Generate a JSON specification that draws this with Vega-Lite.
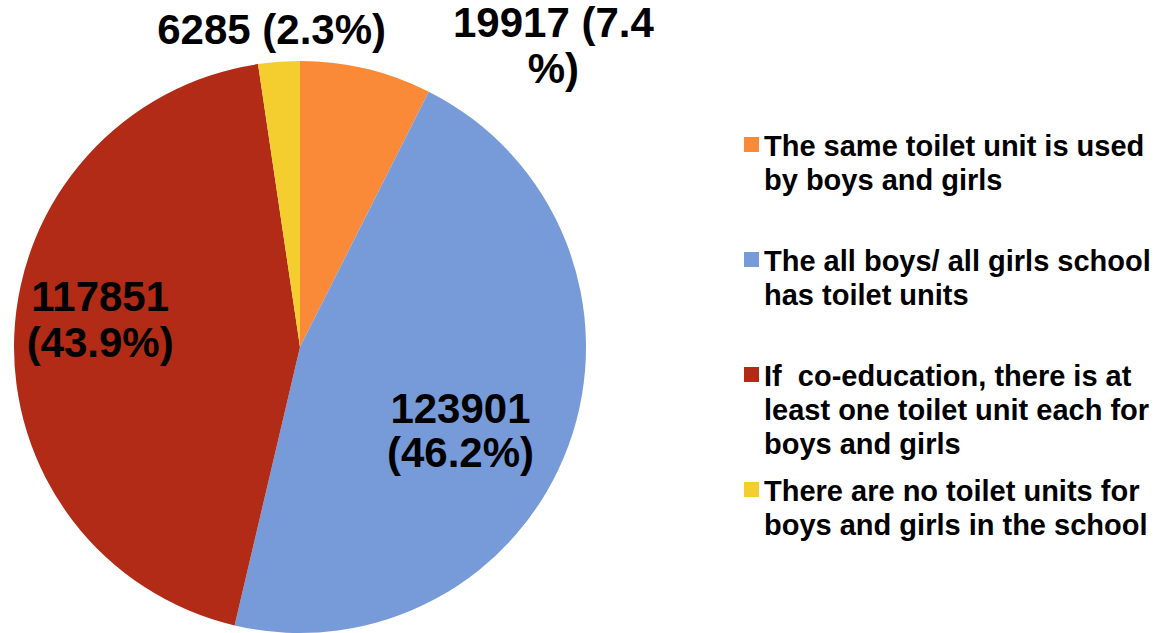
{
  "$schema": "https://vega.github.io/schema/vega-lite/v6.json",
  "width": 600,
  "height": 694,
  "autosize": {"type": "none"},
  "padding": {"left": 0, "top": 0, "right": 560, "bottom": 0},
  "background": "white",
  "config": {"view": {"stroke": null}, "font": "Liberation Sans"},
  "data": {
    "values": [
      {"cat": "The same toilet unit is used by boys and girls", "value": 19917, "label": "19917 (7.4\n%)", "order": 1},
      {"cat": "The all boys/ all girls school has toilet units", "value": 123901, "label": "123901\n(46.2%)", "order": 2},
      {"cat": "If  co-education, there is at least one toilet unit each for boys and girls", "value": 117851, "label": "117851\n(43.9%)", "order": 3},
      {"cat": "There are no toilet units for boys and girls in the school", "value": 6285, "label": "6285 (2.3%)", "order": 4}
    ]
  },
  "encoding": {
    "theta": {"field": "value", "type": "quantitative", "stack": true},
    "order": {"field": "order", "type": "quantitative"}
  },
  "layer": [
    {
      "mark": {"type": "arc", "radius": 286},
      "encoding": {
        "color": {
          "field": "cat",
          "type": "nominal",
          "sort": null,
          "scale": {
            "domain": [
              "The same toilet unit is used by boys and girls",
              "The all boys/ all girls school has toilet units",
              "If  co-education, there is at least one toilet unit each for boys and girls",
              "There are no toilet units for boys and girls in the school"
            ],
            "range": ["#FA8A38", "#779BD9", "#B12B17", "#F4CD2F"]
          },
          "legend": {
            "title": null,
            "orient": "none",
            "legendX": 737,
            "legendY": 130,
            "padding": 0,
            "symbolType": "square",
            "symbolSize": 225,
            "symbolStrokeWidth": 0,
            "symbolOpacity": 1,
            "labelFont": "Liberation Sans",
            "labelFontWeight": "bold",
            "labelFontSize": 29,
            "labelColor": "black",
            "labelLimit": 600,
            "labelOffset": -2,
            "labelBaseline": "top",
            "gridAlign": "all",
            "rowPadding": 15,
            "labelExpr": "datum.label == 'The same toilet unit is used by boys and girls' ? ['The same toilet unit is used', 'by boys and girls'] : datum.label == 'The all boys/ all girls school has toilet units' ? ['The all boys/ all girls school', 'has toilet units'] : datum.label == 'If  co-education, there is at least one toilet unit each for boys and girls' ? ['If\u00a0 co-education, there is at', 'least one toilet unit each for', 'boys and girls'] : ['There are no toilet units for', 'boys and girls in the school']",
            "encode": {"labels": {"update": {"lineHeight": {"value": 34}, "dy": {"value": -12}}}}
          }
        }
      }
    },
    {
      "mark": {"type": "text", "radius": 175, "dx": -4, "dy": 3, "font": "Liberation Sans", "fontWeight": "bold", "fontSize": 42, "lineBreak": "\n", "lineHeight": 44, "align": "center", "baseline": "middle", "color": "black"},
      "encoding": {"text": {"condition": {"test": "datum.order == 2", "field": "label"}, "value": ""}}
    },
    {
      "mark": {"type": "text", "radius": 200, "dx": 0, "dy": -41, "font": "Liberation Sans", "fontWeight": "bold", "fontSize": 42, "lineBreak": "\n", "lineHeight": 46, "align": "center", "baseline": "middle", "color": "black"},
      "encoding": {"text": {"condition": {"test": "datum.order == 3", "field": "label"}, "value": ""}}
    },
    {
      "mark": {"type": "text", "radius": 318, "dx": -5, "dy": 1, "font": "Liberation Sans", "fontWeight": "bold", "fontSize": 42, "lineBreak": "\n", "lineHeight": 45, "align": "center", "baseline": "middle", "color": "black"},
      "encoding": {"text": {"condition": {"test": "datum.order == 4", "field": "label"}, "value": ""}}
    },
    {
      "mark": {"type": "text", "radius": 300, "dx": 184, "dy": -31, "font": "Liberation Sans", "fontWeight": "bold", "fontSize": 42, "lineBreak": "\n", "lineHeight": 46, "align": "center", "baseline": "middle", "color": "black"},
      "encoding": {"text": {"condition": {"test": "datum.order == 1", "field": "label"}, "value": ""}}
    }
  ]
}
